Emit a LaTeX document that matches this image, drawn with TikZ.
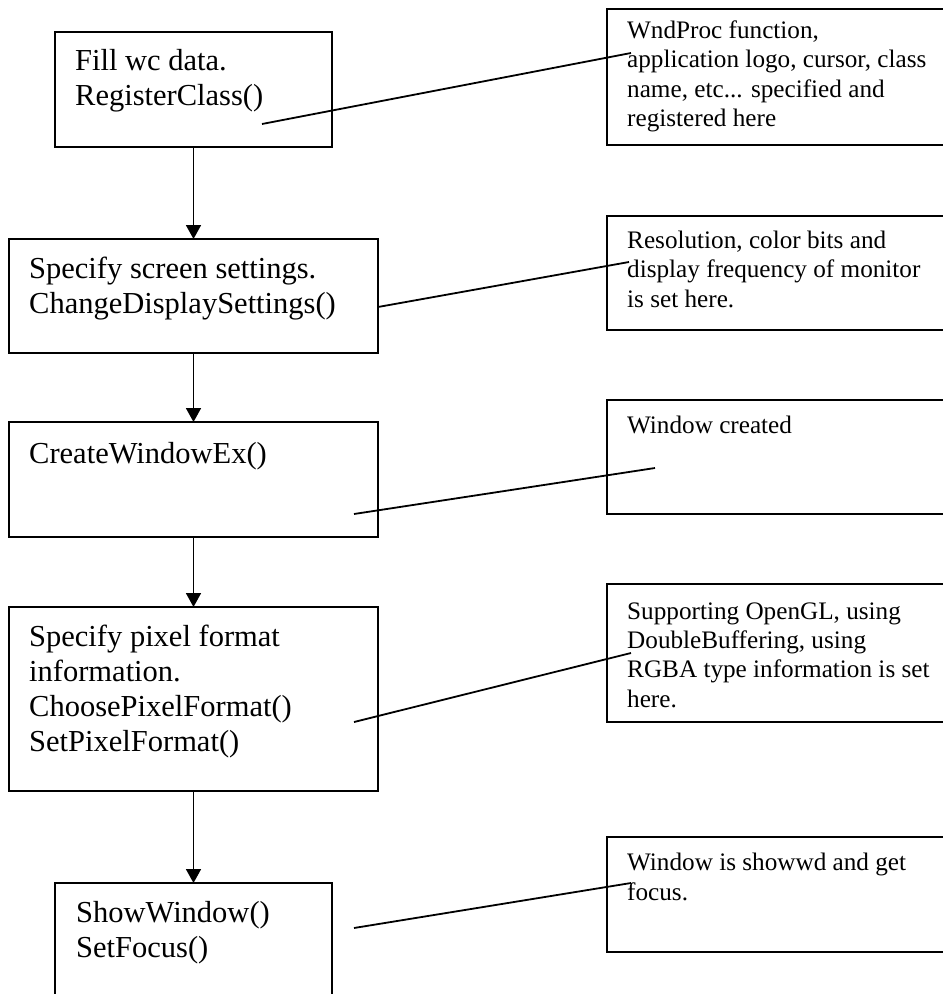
\documentclass[tikz,border=0pt]{standalone}
\usepackage{fontspec}
\setmainfont{Liberation Serif}
\usetikzlibrary{arrows.meta}

\tikzset{
  boxline/.style={draw=black, line width=1.8pt},
  flowbox/.style={boxline, rectangle, inner sep=0pt, outer sep=0pt, anchor=north west},
  notebox/.style={boxline, rectangle, inner sep=0pt, outer sep=0pt, anchor=north west},
  % text nodes are placed by the baseline of their last line
  flowtext/.style={anchor=base west, inner sep=0pt, align=left,
    font=\fontsize{30.5}{35.3}\selectfont},
  notetext/.style={anchor=base west, inner sep=0pt, align=left,
    font=\fontsize{25.2}{29.3}\selectfont},
  flowarrow/.style={line width=1.8pt, -{Triangle[width=15pt,length=14pt]}},
  leader/.style={line width=1.8pt}
}

\begin{document}
\begin{tikzpicture}[x=1pt, y=-1pt]
  \useasboundingbox (0,0) rectangle (943,994);
  \clip (0,0) rectangle (943,994);

  % main flow boxes
  \node[flowbox, minimum width=277pt, minimum height=115pt] (b1) at (55,32) {};
  \node[flowbox, minimum width=369pt, minimum height=114pt] (b2) at (9,239) {};
  \node[flowbox, minimum width=369pt, minimum height=115pt] (b3) at (9,422) {};
  \node[flowbox, minimum width=369pt, minimum height=184pt] (b4) at (9,607) {};
  \node[flowbox, minimum width=277pt, minimum height=118pt] (b5) at (55,883) {};

  \node[flowtext] (t1) at (75,105.3) {Fill wc data.\\RegisterClass()};
  \node[flowtext] (t2) at (29,313.3) {Specify screen settings.\\ChangeDisplaySettings()};
  \node[flowtext] (t3) at (29,463)   {CreateWindowEx()};
  \node[flowtext] (t4) at (29,751.9) {Specify pixel format\\information.\\ChoosePixelFormat()\\SetPixelFormat()};
  \node[flowtext] (t5) at (76,957.3) {ShowWindow()\\SetFocus()};

  % explanatory notes on the right
  \node[notebox, minimum width=360pt, minimum height=136pt] (n1) at (607,9) {};
  \node[notebox, minimum width=360pt, minimum height=114pt] (n2) at (607,216) {};
  \node[notebox, minimum width=360pt, minimum height=114pt] (n3) at (607,400) {};
  \node[notebox, minimum width=360pt, minimum height=138pt] (n4) at (607,584) {};
  \node[notebox, minimum width=360pt, minimum height=115pt] (n5) at (607,837) {};

  \node[notetext] (r1) at (627,126.5) {WndProc function,\\application logo, cursor, class\\name, etc... specified and\\registered here};
  \node[notetext] (r2) at (627,307)   {Resolution, color bits and\\display frequency of monitor\\is set here.};
  \node[notetext] (r3) at (627,433)   {Window created};
  \node[notetext] (r4) at (627,707)   {Supporting OpenGL, using\\DoubleBuffering, using\\RGBA type information is set\\here.};
  \node[notetext] (r5) at (627,900)   {Window is showwd and get\\focus.};

  % flow arrows
  \draw[flowarrow] (b1.south) -- (b2.north);
  \draw[flowarrow] (b2.south) -- (b3.north);
  \draw[flowarrow] (b3.south) -- (b4.north);
  \draw[flowarrow] (b4.south) -- (b5.north);

  % leader lines from steps to notes
  \coordinate (l1s) at (262,124); \coordinate (l1e) at (631,53);
  \coordinate (l2s) at (378,307); \coordinate (l2e) at (629,262);
  \coordinate (l3s) at (354,514); \coordinate (l3e) at (655,468);
  \coordinate (l4s) at (354,722); \coordinate (l4e) at (631,653);
  \coordinate (l5s) at (354,928); \coordinate (l5e) at (631,883);
  \draw[leader] (l1s) -- (l1e);
  \draw[leader] (l2s) -- (l2e);
  \draw[leader] (l3s) -- (l3e);
  \draw[leader] (l4s) -- (l4e);
  \draw[leader] (l5s) -- (l5e);
\end{tikzpicture}
\end{document}
